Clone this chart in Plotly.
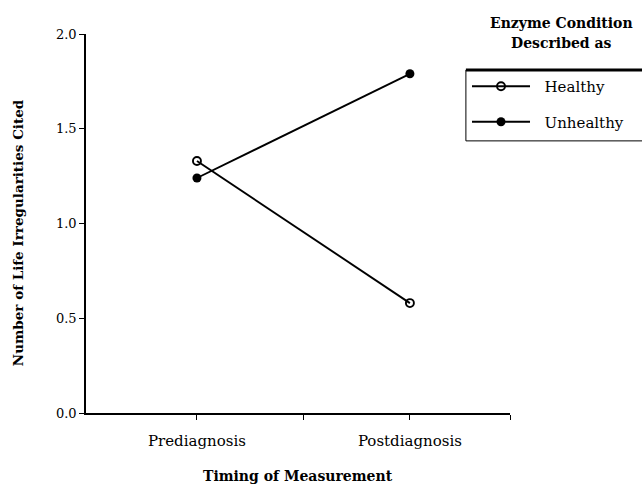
import plotly.graph_objects as go

categories = ["Prediagnosis", "Postdiagnosis"]
cat_pos = [1, 3]
healthy = [1.33, 0.58]
unhealthy = [1.24, 1.79]
y_ticks = [0.0, 0.5, 1.0, 1.5, 2.0]
y_tick_labels = ["0.0", "0.5", "1.0", "1.5", "2.0"]
series_names = ["Healthy", "Unhealthy"]

FONT = "DejaVu Serif"
NB = "\u00a0\u00a0"

fig = go.Figure()
fig.add_trace(go.Scatter(
    x=cat_pos, y=healthy, name=NB + series_names[0], mode="lines+markers",
    legendgroup="h",
    line=dict(color="black", width=1.9),
    marker=dict(symbol="circle-open", size=8, color="black", line=dict(width=1.9)),
))
fig.add_trace(go.Scatter(
    x=cat_pos, y=unhealthy, name=NB + series_names[1], mode="lines+markers",
    legendgroup="u",
    line=dict(color="black", width=1.9),
    marker=dict(symbol="circle", size=9, color="black"),
))

X_RANGE = [-0.042, 3.94]

fig.update_layout(
    width=642, height=492,
    margin=dict(l=86, r=132, t=34, b=79),
    paper_bgcolor="white", plot_bgcolor="white",
    font=dict(family=FONT, size=13, color="black"),
    showlegend=True,
    legend=dict(
        x=0.8986, y=0.905, xanchor="left", yanchor="top",
        bgcolor="rgba(0,0,0,0)", borderwidth=0,
        font=dict(family=FONT, size=15, color="black"),
        itemwidth=58, traceorder="grouped", tracegroupgap=13,
    ),
    xaxis=dict(
        range=X_RANGE, tickmode="array", tickvals=[1, 2, 3, X_RANGE[1]],
        ticktext=[categories[0], "", categories[1], ""],
        showline=True, linecolor="black", linewidth=1.6,
        ticks="outside", ticklen=5, tickcolor="black", tickwidth=1.3,
        ticklabelstandoff=8,
        showgrid=False, zeroline=False,
        tickfont=dict(family=FONT, size=15),
    ),
    yaxis=dict(
        range=[0, 2.0], tickmode="array", tickvals=y_ticks, ticktext=y_tick_labels,
        showline=True, linecolor="black", linewidth=1.6,
        ticks="outside", ticklen=5, tickcolor="black", tickwidth=1.3,
        showgrid=False, zeroline=False,
        tickfont=dict(family=FONT, size=13),
    ),
)

# axis titles
fig.add_annotation(
    x=0.5, y=-0.165, xref="paper", yref="paper", xanchor="center", yanchor="middle",
    text="<b>Timing of Measurement</b>", showarrow=False,
    font=dict(family=FONT, size=14),
)
fig.add_annotation(
    x=-0.160, y=0.475, xref="paper", yref="paper", xanchor="center", yanchor="middle",
    text="<b>Number of Life Irregularities Cited</b>", showarrow=False, textangle=-90,
    font=dict(family=FONT, size=13.5),
)

# legend heading
fig.add_annotation(
    x=1.1226, y=1.029, xref="paper", yref="paper", xanchor="center", yanchor="middle",
    text="<b>Enzyme Condition</b>", showarrow=False,
    font=dict(family=FONT, size=14),
)
fig.add_annotation(
    x=1.1226, y=0.976, xref="paper", yref="paper", xanchor="center", yanchor="middle",
    text="<b>Described as</b>", showarrow=False,
    font=dict(family=FONT, size=14),
)
# legend box (open to the right edge, heavy top rule)
fig.add_shape(type="rect", xref="paper", yref="paper",
              x0=0.896, x1=1.33, y0=0.718, y1=0.905,
              line=dict(color="black", width=1))
fig.add_shape(type="line", xref="paper", yref="paper",
              x0=0.896, x1=1.33, y0=0.905, y1=0.905,
              line=dict(color="black", width=3))

fig.write_html("out.html", config={"displayModeBar": False},
               post_script="document.body.style.margin='0';")
